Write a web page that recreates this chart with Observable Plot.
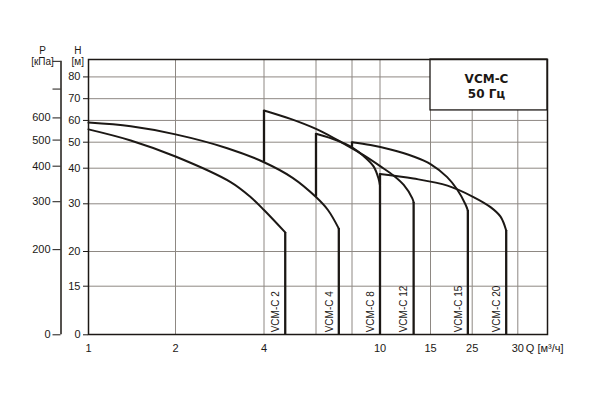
<!DOCTYPE html>
<html>
<head>
<meta charset="utf-8">
<script src="https://cdn.jsdelivr.net/npm/d3@7"></script>
<script src="https://cdn.jsdelivr.net/npm/@observablehq/plot@0.6"></script>
<style>
  body { margin: 0; background: white; }
</style>
</head>
<body>
<div id="chart"></div>
<script>
// Curvas de bombas VCM-C, 50 Hz (Q en m3/h, H en m)
const pumps = ["VCM-C 2", "VCM-C 4", "VCM-C 8", "VCM-C 12", "VCM-C 15", "VCM-C 20"];
const q2 = [1, 1.4, 2, 3.08, 3.6, 4, 4.72];
const h2 = [55.9, 50.8, 44.5, 36.1, 31.9, 28.7, 24.0];
const q4 = [1, 1.4, 2, 3, 4, 5, 6, 6.6, 7.2];
const h4 = [59.0, 57.3, 53.6, 47.7, 42.3, 37.3, 31.9, 28.7, 24.8];
const q8 = [4, 4.92, 6, 7.3, 8, 8.77, 9.5, 9.88, 10];
const h8 = [64.6, 60.7, 56.1, 50.3, 48.0, 44.7, 40.7, 37.1, 35.1];
const q12 = [6, 7.11, 7.7, 8.8, 10.04, 11.17, 12.1, 12.95, 13.1];
const h12 = [53.9, 50.8, 48.7, 44.9, 40.7, 37.9, 35.3, 31.6, 30.4];
const q15 = [8, 9.27, 10.88, 13.08, 15, 18.4, 20.8, 23.0, 23.7];
const h15 = [50, 48.9, 47.2, 44.5, 41.6, 37.5, 34.0, 29.9, 28.6];
const q20 = [10, 13.08, 18.47, 25.13, 26.9, 28.0, 28.64];
const h20 = [38.4, 37.1, 35.1, 31.9, 29.3, 27.3, 24.4];
// donde baja la linea vertical izquierda (curva de la bomba anterior)
const minFlowBase = [null, null, 42.3, 31.9, 48.0, 35.1];

const xTicks = [1, 2, 4, 6, 8, 10, 15, 25, 30];
const hTicks = [0, 15, 20, 30, 40, 50, 60, 70, 80];
const pTicks = [0, 200, 300, 400, 500, 600, 730, 855]; // kPa
const pLabelMax = 600;
const titleLines = ["VCM-C", "50 Гц"];
const qLabel = "Q [м³/ч]";
const pTitle = ["P", "[кПа]"];
const hTitle = ["H", "[м]"];

const ink = "#1c1815";
const gridInk = "#8e8883";

const qs = [q2, q4, q8, q12, q15, q20];
const hs = [h2, h4, h8, h12, h15, h20];

const curves = pumps.flatMap((name, i) => qs[i].map((q, j) => ({name, q, h: hs[i][j]})));
const ends = pumps.map((name, i) => ({name, q: qs[i].at(-1), h: hs[i].at(-1)}));
const starts = pumps
  .map((name, i) => ({name, q: qs[i][0], h: hs[i][0], base: minFlowBase[i]}))
  .filter(d => d.base != null);

// escalas por tramos, como en el grafico original
const xKnots = [1, 2, 4, 6, 8, 10, 15, 25, 30, 33.8];
const xPx = [88, 175, 263.5, 315.5, 351.5, 379.5, 430, 471.7, 517.3, 547];
const yKnots = [0, 15, 20, 30, 40, 50, 88];
const yPx = [334.3, 285.7, 251, 203.3, 167.7, 141.7, 59];

const label = (t, dx, dy) => Plot.text([t], {text: d => d, frameAnchor: "top-left", textAnchor: "middle", dx, dy, fontSize: 10, fill: ink})

let chart = Plot.plot({
  width: 592,
  height: 402,
  marginLeft: 88,
  marginRight: 45,
  marginTop: 59,
  marginBottom: 68,
  style: {fontFamily: "Liberation Sans, Arial, sans-serif", fontSize: "11px", color: ink, background: "white"},
  x: {type: "log", domain: xKnots, range: xPx},
  y: {type: "linear", domain: yKnots, range: yPx},
  marks: [
    Plot.gridX(xTicks.slice(1), {stroke: gridInk, strokeOpacity: 1, strokeWidth: 1}),
    Plot.gridY(hTicks.slice(1), {stroke: gridInk, strokeOpacity: 1, strokeWidth: 1}),
    Plot.rect([0], {x1: 15, x2: xKnots.at(-1), y1: 64.6, y2: yKnots.at(-1), fill: "white", stroke: ink, strokeWidth: 1.3}),
    Plot.text([titleLines.join("\n")], {
      text: d => d, frameAnchor: "top-right", textAnchor: "middle", dx: -61, dy: 12.5, lineAnchor: "top", lineHeight: 1.25,
      fontFamily: "DejaVu Sans", fontWeight: "bold", fontSize: 12, fill: ink
    }),
    Plot.line(curves, {x: "q", y: "h", z: "name", curve: "catmull-rom", stroke: ink, strokeWidth: 2}),
    Plot.ruleX(ends, {x: "q", y1: 0, y2: "h", stroke: ink, strokeWidth: 2.3}),
    Plot.ruleX(starts, {x: "q", y1: "base", y2: "h", stroke: ink, strokeWidth: 2.3}),
    Plot.text(ends, {x: "q", y: 0, text: "name", rotate: -90, textAnchor: "start", dx: -9.5, dy: -2.5, fontSize: 10, fill: ink}),
    Plot.frame({stroke: ink, strokeWidth: 1.5}),
    Plot.axisY(hTicks, {anchor: "left", tickSize: 5, tickPadding: 3, label: null, stroke: ink, fill: ink}),
    Plot.axisY(pTicks.map(p => p / 9.81), {
      anchor: "left", dx: -27.5, tickSize: 8, tickPadding: 2.5, label: null, stroke: ink, fill: ink,
      tickFormat: d => { const p = Math.round(d * 9.81); return p <= pLabelMax ? p : ""; }
    }),
    Plot.ruleX([1], {y1: 0, y2: pTicks.at(-1) / 9.81, dx: -27.5, stroke: ink, strokeWidth: 1.5}),
    Plot.axisX(xTicks, {anchor: "bottom", tickSize: 0, tickPadding: 10, label: null, fill: ink}),
    Plot.text([qLabel], {text: d => d, x: xTicks.at(-1), y: 0, dx: 8, dy: 14, textAnchor: "start", fill: ink}),
    label(pTitle[0], -46, -13),
    label(pTitle[1], -46, -1.2),
    label(hTitle[0], -10.7, -13),
    label(hTitle[1], -10.7, -1.2)
  ]
})

d3.select('#chart').append(() => chart)
</script>
</body>
</html>
